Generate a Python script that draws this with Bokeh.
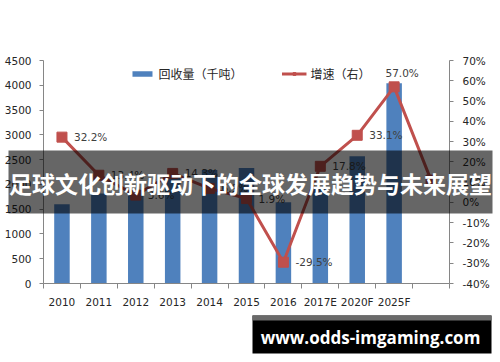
from bokeh.plotting import figure
from bokeh.models import (Range1d, LinearAxis, FixedTicker, BoxAnnotation, Label,
                          ColumnDataSource, PrintfTickFormatter)
from bokeh.embed import file_html
from bokeh.resources import INLINE

# ---- data ----
categories = ["2010", "2011", "2012", "2013", "2014", "2015", "2016", "2017E", "2020F", "2025F", ""]
volume = [1600, 1815, 1880, 2150, 2290, 2330, 1640, 1930, 2570, 4040]
growth = [32.2, 13.4, 3.6, 14.3, 6.9, 1.9, -29.5, 17.8, 33.1, 57.0, 11.0]
left_ticks = [0, 500, 1000, 1500, 2000, 2500, 3000, 3500, 4000, 4500]
right_ticks = [-40, -30, -20, -10, 0, 10, 20, 30, 40, 50, 60, 70]
series_names = ["回收量（千吨）", "增速（右）"]
banner_text = "足球文化创新驱动下的全球发展趋势与未来展望"
watermark_text = "www.odds-imgaming.com"

BLUE = "#4F81BD"
RED = "#C0504D"
AXIS = "#868686"
TXT = "#262626"
FONT = "DejaVu Sans"
W, H = 500, 362
# plot-area edges in pixels (the frame covers the whole canvas; axes are pinned inside)
PL, PR, PT, PB = 43, 449, 60, 283

n = len(categories)
centers = [i + 0.5 for i in range(n)]

def span(lo, hi, px_lo, px_hi, total, flip=False):
    per = (hi - lo) / (px_hi - px_lo)
    if not flip:
        return Range1d(lo - px_lo * per, hi + (total - px_hi) * per)
    return Range1d(lo - (total - px_hi) * per, hi + px_lo * per)

x_rng = span(0, n, PL, PR, W)
y_rng = span(left_ticks[0], left_ticks[-1], PT, PB, H, flip=True)
pct_rng = span(right_ticks[0], right_ticks[-1], PT, PB, H, flip=True)

p = figure(width=W, height=H, x_range=x_rng, y_range=y_rng,
           output_backend="svg", toolbar_location=None,
           min_border=0, min_border_left=0, min_border_right=0, min_border_top=0, min_border_bottom=0)
p.xgrid.visible = False
p.ygrid.visible = False
p.outline_line_color = None
p.extra_y_ranges = {"pct": pct_rng}

xax = p.xaxis[0]
yax = p.yaxis[0]
xax.fixed_location = left_ticks[0]
xax.bounds = (0, n)
yax.fixed_location = 0
yax.bounds = (left_ticks[0], left_ticks[-1])
raxis = LinearAxis(y_range_name="pct", ticker=FixedTicker(ticks=right_ticks),
                   formatter=PrintfTickFormatter(format="%d%%"),
                   fixed_location=n, bounds=(right_ticks[0], right_ticks[-1]))
p.add_layout(raxis, "right")

xax.ticker = FixedTicker(ticks=centers[:len(volume)], minor_ticks=list(range(n + 1)))
xax.major_label_overrides = {c: lab for c, lab in zip(centers, categories)}
xax.major_tick_out = 0
xax.major_tick_in = 0
xax.minor_tick_out = 5
xax.minor_tick_in = 0
xax.minor_tick_line_color = AXIS
xax.major_label_standoff = 7

yax.ticker = FixedTicker(ticks=left_ticks)
yax.major_label_standoff = 8
raxis.major_label_standoff = 9

for ax in [xax, yax, raxis]:
    ax.axis_line_color = AXIS
    ax.major_tick_line_color = AXIS
    ax.major_label_text_font = FONT
    ax.major_label_text_font_size = "10.5px"
    ax.major_label_text_color = TXT
for ax in [yax, raxis]:
    ax.major_tick_out = 4
    ax.major_tick_in = 0
    ax.minor_tick_line_color = None

bar_src = ColumnDataSource(dict(x=centers[:len(volume)], v=volume))
p.vbar(x="x", top="v", bottom=left_ticks[0], width=0.42, source=bar_src, fill_color=BLUE,
       line_color=None, legend_label=series_names[0])

labels = [f"{g:.1f}%" for g in growth]
line_src = ColumnDataSource(dict(x=centers, g=growth, lab=labels))
p.line(x="x", y="g", source=line_src, line_color=RED, line_width=3, y_range_name="pct",
       legend_label=series_names[1])
p.scatter(x="x", y="g", source=line_src, marker="square", size=10, fill_color=RED,
          line_color=RED, y_range_name="pct", legend_label=series_names[1])

top_idx = growth.index(max(growth))
right_idx = [i for i in range(len(volume)) if i != top_idx]
rs = ColumnDataSource(dict(x=[centers[i] for i in right_idx], g=[growth[i] for i in right_idx],
                           lab=[labels[i] for i in right_idx]))
p.text(x="x", y="g", text="lab", source=rs, y_range_name="pct", x_offset=12,
       text_align="left", text_baseline="middle", text_font_size="10.5px",
       text_color="#404040", text_font={"value": FONT})
ts = ColumnDataSource(dict(x=[centers[top_idx]], g=[growth[top_idx]], lab=[labels[top_idx]]))
p.text(x="x", y="g", text="lab", source=ts, y_range_name="pct", x_offset=8, y_offset=-14,
       text_align="center", text_baseline="middle", text_font_size="10.5px",
       text_color="#404040", text_font={"value": FONT})

lg = p.legend[0]
lg.location = "top_center"
lg.orientation = "horizontal"
lg.glyph_width = 25
lg.glyph_height = 7
lg.label_standoff = 4
lg.spacing = 39
lg.padding = 0
lg.margin = 65
lg.border_line_color = None
lg.background_fill_alpha = 0
lg.label_text_font = "Noto Sans CJK SC"
lg.label_text_font_size = "12px"
lg.label_text_color = TXT

def cbox(l, r, t, b, color, alpha=1.0):
    u = "canvas"
    return BoxAnnotation(left=l, right=r, top=t, bottom=b,
                         left_units=u, right_units=u, top_units=u, bottom_units=u,
                         fill_color=color, fill_alpha=alpha, line_color=None, level="annotation")

# banner overlay
p.add_layout(cbox(8, 492, 150, 213, "black", 0.6))
p.add_layout(Label(x=250, y=182, x_units="canvas", y_units="canvas", text=banner_text,
                   text_font="Noto Sans CJK SC", text_font_style="bold", text_font_size="23px",
                   text_color="white", text_align="center", text_baseline="middle", level="annotation"))

# watermark
p.add_layout(cbox(252, 491, 315, 353, "black"))
p.add_layout(cbox(252, 491, 315, 320, "#6a6a6a"))
p.add_layout(Label(x=370, y=337, x_units="canvas", y_units="canvas", text=watermark_text,
                   text_font="Open Sans", text_font_style="bold", text_font_size="17px",
                   text_color="white", text_align="center", text_baseline="middle", level="annotation"))

open("out.html", "w").write(file_html(p, INLINE))
